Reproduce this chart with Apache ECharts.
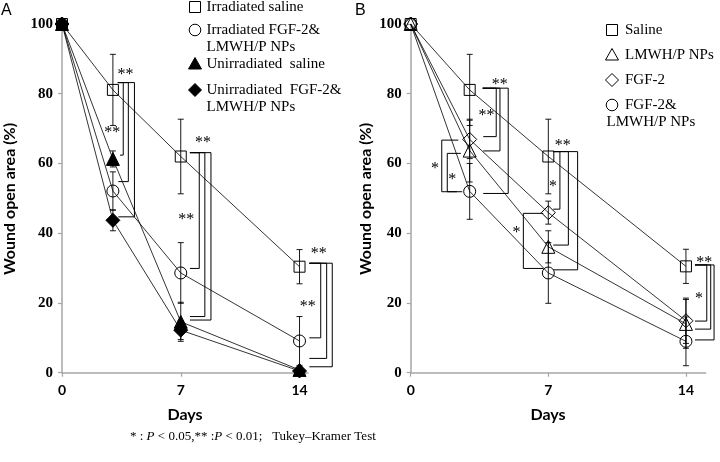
<!DOCTYPE html>
<html><head><meta charset="utf-8">
<script src="https://cdn.jsdelivr.net/npm/echarts@6/dist/echarts.min.js"></script>
<style>html,body{margin:0;padding:0;background:#fff}#c{width:720px;height:462px}</style>
</head><body><div id="c"></div>
<script>
const days = [0, 3, 7, 14];
const xTicks = [0, 7, 14];
const yTicks = [0, 20, 40, 60, 80, 100];

// Panel A
const aIrrSaline = [100, 81.1, 62.0, 30.4];
const aIrrSalineErr = [0, 10.2, 10.7, 4.9];
const aIrrNP = [100, 52.1, 28.6, 9.1];
const aIrrNPErr = [0, 5.5, 8.7, 7.0];
const aUnSaline = [100, 61.3, 14.6, 0.8];
const aUnSalineErr = [0, 2.3, 5.6, 0.8];
const aUnNP = [100, 43.7, 12.2, 0.5];
const aUnNPErr = [0, 3.0, 2.7, 0.5];

// Panel B
const bSaline = [100, 81.1, 62.0, 30.5];
const bSalineErr = [0, 10.2, 10.7, 4.9];
const bLMWH = [100, 63.7, 36.1, 14.0];
const bLMWHErr = [0, 9.0, 4.6, 7.0];
const bFGF = [100, 66.9, 45.9, 14.9];
const bFGFErr = [0, 5.5, 3.3, 6.5];
const bNP = [100, 52.0, 28.6, 9.0];
const bNPErr = [0, 8.0, 8.7, 7.0];

// significance brackets: [topArmX, verticalX, yTop, yBottom, bottomArmX]
const aBrackets = [
  [3.29, 3.61, 83.2, 62.4, 3.42],
  [3.29, 3.91, 83.2, 54.8, 3.32],
  [3.29, 4.27, 83.2, 44.7, 3.32],
  [7.54, 8.09, 63.1, 29.9, 7.54],
  [7.54, 8.42, 63.1, 16.1, 7.54],
  [7.54, 8.78, 63.1, 15.1, 7.54],
  [14.58, 15.25, 31.4, 10.0, 14.58],
  [14.58, 15.60, 31.4, 4.1, 14.58],
  [14.58, 15.93, 31.4, 1.7, 14.58]
];
const aSigX = [3.75, 2.96, 8.31, 7.33, 15.14, 14.49];
const aSigY = [86.2, 69.6, 66.7, 44.7, 35.0, 19.9];
const aSigText = ['**', '**', '**', '**', '**', '**'];

const bBrackets = [
  [3.66, 4.35, 81.6, 67.7, 3.69],
  [3.66, 4.54, 81.6, 63.6, 3.69],
  [3.66, 4.96, 81.6, 51.4, 3.69],
  [2.42, 1.58, 66.7, 51.9, 2.35],
  [2.55, 1.86, 62.9, 51.9, 2.62],
  [7.25, 7.59, 63.4, 46.9, 7.25],
  [7.25, 8.02, 63.4, 36.6, 7.25],
  [7.25, 8.49, 63.4, 29.5, 7.25],
  [6.74, 5.73, 45.7, 29.9, 6.74],
  [14.46, 15.06, 30.9, 14.8, 14.46],
  [14.46, 15.26, 30.9, 12.5, 14.46],
  [14.46, 15.43, 30.9, 9.4, 14.46]
];
const bSigX = [4.53, 3.86, 1.23, 2.11, 7.73, 7.24, 5.38, 14.93, 14.67];
const bSigY = [83.5, 74.4, 59.3, 56.2, 66.0, 54.3, 40.9, 32.3, 22.1];
const bSigText = ['**', '**', '*', '*', '**', '*', '*', '**', '*'];

const chart = echarts.init(document.getElementById('c'), null, {renderer: 'canvas'});

const AX = '#a6a6a6';
function xAxisCfg(gi, max) {
  return {
    type: 'value', gridIndex: gi, min: 0, max: max, interval: 7,
    axisLine: {show: true, lineStyle: {color: AX, width: 1.5}},
    axisTick: {show: true, length: 4, lineStyle: {color: AX, width: 1.2}, customValues: xTicks},
    axisLabel: {customValues: xTicks, margin: 11, color: '#000', fontFamily: 'Lato', fontWeight: 'bold', fontSize: 14},
    splitLine: {show: false}
  };
}
function yAxisCfg(gi, margin) {
  return {
    type: 'value', gridIndex: gi, min: 0, max: 100, interval: 20,
    axisLine: {show: true, lineStyle: {color: AX, width: 1.5}},
    axisTick: {show: true, length: 4, lineStyle: {color: AX, width: 1.2}},
    axisLabel: {margin: margin, color: '#000', fontFamily: 'Liberation Serif', fontWeight: 'bold', fontSize: 15},
    splitLine: {show: false}
  };
}

function pts(vals) { return days.map((d, i) => [d, vals[i]]); }
function errPts(vals, errs) { return days.map((d, i) => [d, vals[i], errs[i]]); }

function lineSeries(gi, vals, symbol, size, filled, z) {
  return {
    type: 'line', xAxisIndex: gi, yAxisIndex: gi, data: pts(vals),
    symbol: symbol, symbolSize: size, showAllSymbol: true, z: z || 3,
    lineStyle: {color: '#000', width: 0.8},
    itemStyle: filled ? {color: '#000', borderColor: '#000', borderWidth: 1}
                      : {color: 'rgba(0,0,0,0)', borderColor: '#000', borderWidth: 1},
    emphasis: {disabled: true}, animation: false
  };
}
function errSeries(gi, vals, errs) {
  return {
    type: 'custom', xAxisIndex: gi, yAxisIndex: gi, data: errPts(vals, errs), z: 4, clip: false,
    renderItem: function (params, api) {
      const x = api.value(0), y = api.value(1), e = api.value(2);
      if (!e) return null;
      const t = api.coord([x, y + e]), b = api.coord([x, y - e]);
      const st = {stroke: '#000', lineWidth: 0.9};
      return {type: 'group', children: [
        {type: 'line', shape: {x1: t[0], y1: t[1], x2: b[0], y2: b[1]}, style: st},
        {type: 'line', shape: {x1: t[0] - 3, y1: t[1], x2: t[0] + 3, y2: t[1]}, style: st},
        {type: 'line', shape: {x1: b[0] - 3, y1: b[1], x2: b[0] + 3, y2: b[1]}, style: st}
      ]};
    }, animation: false
  };
}
function bracketSeries(gi, data) {
  return {
    type: 'custom', xAxisIndex: gi, yAxisIndex: gi, data: data, z: 5, clip: false,
    renderItem: function (params, api) {
      const p1 = api.coord([api.value(0), api.value(2)]);
      const p2 = api.coord([api.value(1), api.value(2)]);
      const p3 = api.coord([api.value(1), api.value(3)]);
      const p4 = api.coord([api.value(4), api.value(3)]);
      return {type: 'polyline', shape: {points: [p1, p2, p3, p4]}, style: {stroke: '#000', lineWidth: 1, fill: null}};
    }, animation: false
  };
}
function sigSeries(gi, xs, ys, texts) {
  return {
    type: 'custom', xAxisIndex: gi, yAxisIndex: gi, data: xs.map((x, i) => [x, ys[i]]), z: 6, clip: false,
    renderItem: function (params, api) {
      const p = api.coord([api.value(0), api.value(1)]);
      return {type: 'text', x: p[0], y: p[1] + 3, style: {
        text: texts[params.dataIndex], fill: '#000', fontFamily: 'Liberation Serif', fontSize: 16,
        align: 'center', verticalAlign: 'middle'}};
    }, animation: false
  };
}

// legend glyphs
function sq(cx, cy) { return {type: 'rect', shape: {x: cx - 5.5, y: cy - 5.5, width: 11, height: 11}, style: {fill: null, stroke: '#000', lineWidth: 1}}; }
function circ(cx, cy) { return {type: 'circle', shape: {cx: cx, cy: cy, r: 5.8}, style: {fill: null, stroke: '#000', lineWidth: 1}}; }
function tri(cx, cy, filled) { return {type: 'polygon', shape: {points: [[cx, cy - 6.5], [cx + 6.5, cy + 5], [cx - 6.5, cy + 5]]}, style: {fill: filled ? '#000' : null, stroke: '#000', lineWidth: 1}}; }
function dia(cx, cy, filled) { return {type: 'polygon', shape: {points: [[cx, cy - 6.5], [cx + 6.5, cy], [cx, cy + 6.5], [cx - 6.5, cy]]}, style: {fill: filled ? '#000' : null, stroke: '#000', lineWidth: 1}}; }
function txt(x, y, s, opts) {
  return Object.assign({type: 'text', x: x, y: y, style: Object.assign({text: s, fill: '#000', fontFamily: 'Liberation Serif', fontSize: 15, align: 'left', verticalAlign: 'middle'}, opts || {})});
}

const graphics = [
  txt(1, 11, 'A', {fontFamily: 'Liberation Sans', fontSize: 16}),
  txt(355, 11, 'B', {fontFamily: 'Liberation Sans', fontSize: 16}),
  // legend A
  sq(195, 7), txt(206.5, 7, 'Irradiated saline'),
  circ(195, 30), txt(206.5, 30, 'Irradiated FGF-2&'), txt(206.5, 47.5, 'LMWH/P NPs'),
  tri(195, 64, true), txt(206.5, 64, 'Unirradiated  saline'),
  dia(195, 90, true), txt(206.5, 90, 'Unirradiated  FGF-2&'), txt(206.5, 107.5, 'LMWH/P NPs'),
  // legend B
  sq(612, 30), txt(625, 30, 'Saline'),
  tri(612, 55, false), txt(625, 55, 'LMWH/P NPs'),
  dia(612, 80, false), txt(625, 80, 'FGF-2'),
  circ(612, 105), txt(625, 105, 'FGF-2&'), txt(606.5, 122, 'LMWH/P NPs'),
  // axis titles
  {type: 'text', x: 10, y: 199, rotation: Math.PI / 2, style: {text: 'Wound open area (%)', fill: '#000', fontFamily: 'Lato', fontWeight: 'bold', fontSize: 16, align: 'center', verticalAlign: 'middle'}},
  {type: 'text', x: 366, y: 199, rotation: Math.PI / 2, style: {text: 'Wound open area (%)', fill: '#000', fontFamily: 'Lato', fontWeight: 'bold', fontSize: 16, align: 'center', verticalAlign: 'middle'}},
  txt(185, 415, 'Days', {fontFamily: 'Lato', fontWeight: 'bold', fontSize: 16, align: 'center'}),
  txt(548, 415, 'Days', {fontFamily: 'Lato', fontWeight: 'bold', fontSize: 16, align: 'center'}),
  {type: 'text', x: 130, y: 437, style: {
    text: '* : {i|P} < 0.05,** :{i|P} < 0.01;   Tukey–Kramer Test',
    rich: {i: {fontStyle: 'italic', fontFamily: 'Liberation Serif', fontSize: 13, fill: '#000'}},
    fill: '#000', fontFamily: 'Liberation Serif', fontSize: 13, align: 'left', verticalAlign: 'middle'}}
];

chart.setOption({
  animation: false,
  backgroundColor: '#fff',
  grid: [
    {left: 62, top: 24, width: 246, height: 348.7},
    {left: 410.7, top: 24, width: 294.9, height: 348.7}
  ],
  xAxis: [xAxisCfg(0, 14.5), xAxisCfg(1, 15)],
  yAxis: [yAxisCfg(0, 9), yAxisCfg(1, 9)],
  graphic: graphics,
  series: [
    lineSeries(0, aIrrSaline, 'rect', 11, false),
    lineSeries(0, aIrrNP, 'circle', 12, false),
    lineSeries(0, aUnSaline, 'triangle', 13, true),
    lineSeries(0, aUnNP, 'diamond', 14, true),
    errSeries(0, aIrrSaline, aIrrSalineErr),
    errSeries(0, aIrrNP, aIrrNPErr),
    errSeries(0, aUnSaline, aUnSalineErr),
    errSeries(0, aUnNP, aUnNPErr),
    bracketSeries(0, aBrackets),
    sigSeries(0, aSigX, aSigY, aSigText),
    lineSeries(1, bSaline, 'rect', 11, false),
    lineSeries(1, bLMWH, 'triangle', 13, false),
    lineSeries(1, bFGF, 'diamond', 14, false),
    lineSeries(1, bNP, 'circle', 12, false),
    errSeries(1, bSaline, bSalineErr),
    errSeries(1, bLMWH, bLMWHErr),
    errSeries(1, bFGF, bFGFErr),
    errSeries(1, bNP, bNPErr),
    bracketSeries(1, bBrackets),
    sigSeries(1, bSigX, bSigY, bSigText)
  ]
});
</script></body></html>
